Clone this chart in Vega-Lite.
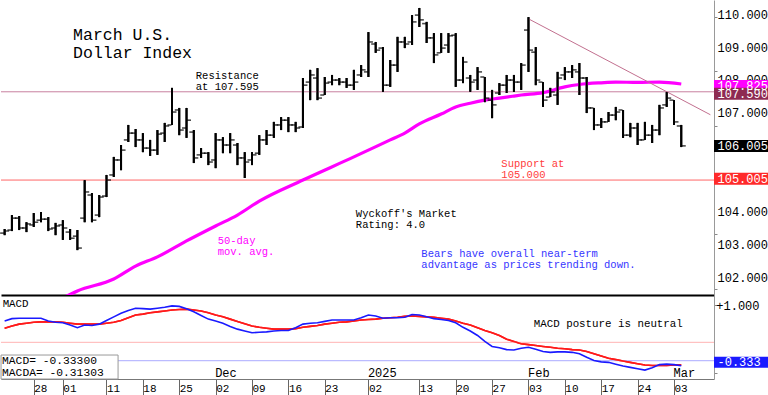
{
  "$schema": "https://vega.github.io/schema/vega-lite/v6.json",
  "padding": 0,
  "spacing": 0,
  "resolve": {"scale": {"color": "independent"}},
  "config": {
    "view": {"stroke": null},
    "font": "Liberation Mono",
    "axis": {"labelFont": "Liberation Mono", "grid": false},
    "text": {"font": "Liberation Mono"}
  },
  "datasets": {
    "bars": [
      {"d":"2024-10-22","o":103.44,"h":103.56,"l":103.38,"c":103.50,"m":0.65,"s":0.49},
      {"d":"2024-10-23","o":103.53,"h":103.97,"l":103.50,"c":103.88,"m":0.70,"s":0.54},
      {"d":"2024-10-24","o":103.88,"h":103.94,"l":103.53,"c":103.59,"m":0.71,"s":0.58},
      {"d":"2024-10-25","o":103.59,"h":103.76,"l":103.47,"c":103.71,"m":0.71,"s":0.60},
      {"d":"2024-10-28","o":103.68,"h":104.03,"l":103.62,"c":103.76,"m":0.71,"s":0.62},
      {"d":"2024-10-29","o":103.82,"h":104.06,"l":103.76,"c":103.85,"m":0.71,"s":0.63},
      {"d":"2024-10-30","o":103.85,"h":103.91,"l":103.50,"c":103.56,"m":0.65,"s":0.63},
      {"d":"2024-10-31","o":103.59,"h":103.74,"l":103.38,"c":103.65,"m":0.62,"s":0.63},
      {"d":"2024-11-01","o":103.68,"h":103.82,"l":103.24,"c":103.59,"m":0.61,"s":0.62},
      {"d":"2024-11-04","o":103.47,"h":103.56,"l":103.24,"c":103.29,"m":0.56,"s":0.60},
      {"d":"2024-11-05","o":103.35,"h":103.53,"l":102.94,"c":103.00,"m":0.50,"s":0.58},
      {"d":"2024-11-06","o":103.88,"h":105.00,"l":103.76,"c":104.65,"m":0.56,"s":0.58},
      {"d":"2024-11-07","o":104.56,"h":104.62,"l":103.76,"c":103.82,"m":0.55,"s":0.58},
      {"d":"2024-11-08","o":103.97,"h":104.56,"l":103.91,"c":104.50,"m":0.58,"s":0.58},
      {"d":"2024-11-11","o":104.53,"h":105.15,"l":104.50,"c":105.00,"m":0.66,"s":0.60},
      {"d":"2024-11-12","o":105.15,"h":105.68,"l":105.09,"c":105.59,"m":0.74,"s":0.62},
      {"d":"2024-11-13","o":105.59,"h":106.03,"l":105.29,"c":105.88,"m":0.82,"s":0.66},
      {"d":"2024-11-14","o":106.18,"h":106.62,"l":106.12,"c":106.38,"m":0.88,"s":0.72},
      {"d":"2024-11-15","o":106.38,"h":106.50,"l":105.97,"c":106.18,"m":0.93,"s":0.78},
      {"d":"2024-11-18","o":106.18,"h":106.38,"l":105.82,"c":105.94,"m":0.92,"s":0.80},
      {"d":"2024-11-19","o":105.94,"h":106.18,"l":105.71,"c":105.88,"m":0.91,"s":0.83},
      {"d":"2024-11-20","o":105.88,"h":106.47,"l":105.74,"c":106.35,"m":0.93,"s":0.85},
      {"d":"2024-11-21","o":106.38,"h":106.68,"l":106.12,"c":106.59,"m":0.95,"s":0.87},
      {"d":"2024-11-22","o":106.62,"h":107.71,"l":106.62,"c":107.00,"m":0.98,"s":0.89},
      {"d":"2024-11-25","o":107.06,"h":107.12,"l":106.32,"c":106.47,"m":0.97,"s":0.90},
      {"d":"2024-11-26","o":106.53,"h":107.12,"l":106.24,"c":106.76,"m":0.92,"s":0.91},
      {"d":"2024-11-27","o":106.41,"h":106.47,"l":105.50,"c":105.65,"m":0.85,"s":0.89},
      {"d":"2024-11-28","o":105.74,"h":105.94,"l":105.65,"c":105.79,"m":0.77,"s":0.87},
      {"d":"2024-11-29","o":105.79,"h":105.82,"l":105.44,"c":105.53,"m":0.69,"s":0.83},
      {"d":"2024-12-02","o":105.59,"h":106.38,"l":105.35,"c":106.18,"m":0.65,"s":0.78},
      {"d":"2024-12-03","o":106.18,"h":106.26,"l":105.79,"c":106.03,"m":0.60,"s":0.74},
      {"d":"2024-12-04","o":106.03,"h":106.38,"l":105.79,"c":106.18,"m":0.53,"s":0.69},
      {"d":"2024-12-05","o":106.03,"h":106.09,"l":105.44,"c":105.65,"m":0.47,"s":0.64},
      {"d":"2024-12-06","o":105.65,"h":105.82,"l":105.06,"c":105.53,"m":0.43,"s":0.59},
      {"d":"2024-12-09","o":105.59,"h":105.82,"l":105.44,"c":105.74,"m":0.39,"s":0.54},
      {"d":"2024-12-10","o":105.79,"h":106.32,"l":105.74,"c":106.18,"m":0.40,"s":0.51},
      {"d":"2024-12-11","o":106.18,"h":106.47,"l":106.03,"c":106.32,"m":0.41,"s":0.49},
      {"d":"2024-12-12","o":106.32,"h":106.71,"l":106.24,"c":106.62,"m":0.43,"s":0.47},
      {"d":"2024-12-13","o":106.62,"h":106.85,"l":106.47,"c":106.76,"m":0.44,"s":0.47},
      {"d":"2024-12-16","o":106.76,"h":106.85,"l":106.41,"c":106.62,"m":0.44,"s":0.47},
      {"d":"2024-12-17","o":106.62,"h":106.71,"l":106.41,"c":106.53,"m":0.50,"s":0.48},
      {"d":"2024-12-18","o":106.56,"h":108.00,"l":106.53,"c":107.79,"m":0.58,"s":0.51},
      {"d":"2024-12-19","o":107.88,"h":108.24,"l":107.35,"c":108.09,"m":0.60,"s":0.53},
      {"d":"2024-12-20","o":108.00,"h":108.29,"l":107.35,"c":107.41,"m":0.61,"s":0.55},
      {"d":"2024-12-23","o":107.50,"h":108.03,"l":107.50,"c":107.85,"m":0.64,"s":0.58},
      {"d":"2024-12-24","o":107.88,"h":108.09,"l":107.79,"c":107.94,"m":0.67,"s":0.60},
      {"d":"2024-12-26","o":107.94,"h":108.00,"l":107.79,"c":107.88,"m":0.67,"s":0.62},
      {"d":"2024-12-27","o":107.88,"h":108.00,"l":107.71,"c":107.79,"m":0.67,"s":0.63},
      {"d":"2024-12-30","o":107.79,"h":108.24,"l":107.65,"c":107.88,"m":0.67,"s":0.65},
      {"d":"2024-12-31","o":108.09,"h":108.38,"l":108.03,"c":108.24,"m":0.72,"s":0.67},
      {"d":"2025-01-02","o":108.18,"h":109.35,"l":108.03,"c":109.06,"m":0.78,"s":0.68},
      {"d":"2025-01-03","o":109.00,"h":109.06,"l":108.74,"c":108.82,"m":0.76,"s":0.69},
      {"d":"2025-01-06","o":108.88,"h":108.91,"l":107.59,"c":107.79,"m":0.71,"s":0.71},
      {"d":"2025-01-07","o":107.79,"h":108.53,"l":107.74,"c":108.38,"m":0.72,"s":0.72},
      {"d":"2025-01-08","o":108.38,"h":109.21,"l":108.18,"c":109.06,"m":0.72,"s":0.73},
      {"d":"2025-01-09","o":109.06,"h":109.21,"l":108.88,"c":109.00,"m":0.73,"s":0.75},
      {"d":"2025-01-10","o":109.06,"h":109.85,"l":108.97,"c":109.65,"m":0.79,"s":0.76},
      {"d":"2025-01-13","o":109.85,"h":110.06,"l":109.50,"c":109.71,"m":0.78,"s":0.75},
      {"d":"2025-01-14","o":109.60,"h":109.65,"l":109.03,"c":109.18,"m":0.74,"s":0.74},
      {"d":"2025-01-15","o":109.18,"h":109.32,"l":108.44,"c":108.68,"m":0.70,"s":0.73},
      {"d":"2025-01-16","o":108.74,"h":109.32,"l":108.74,"c":108.88,"m":0.68,"s":0.71},
      {"d":"2025-01-17","o":108.97,"h":109.32,"l":108.74,"c":109.24,"m":0.66,"s":0.69},
      {"d":"2025-01-20","o":109.26,"h":109.32,"l":107.74,"c":107.94,"m":0.61,"s":0.65},
      {"d":"2025-01-21","o":107.94,"h":108.62,"l":107.85,"c":108.47,"m":0.51,"s":0.60},
      {"d":"2025-01-22","o":108.00,"h":108.09,"l":107.59,"c":107.88,"m":0.43,"s":0.56},
      {"d":"2025-01-23","o":107.94,"h":108.32,"l":107.65,"c":108.18,"m":0.33,"s":0.50},
      {"d":"2025-01-24","o":108.03,"h":108.03,"l":107.29,"c":107.41,"m":0.20,"s":0.44},
      {"d":"2025-01-27","o":107.35,"h":107.65,"l":106.82,"c":107.21,"m":0.09,"s":0.39},
      {"d":"2025-01-28","o":107.56,"h":107.85,"l":107.50,"c":107.79,"m":0.06,"s":0.33},
      {"d":"2025-01-29","o":107.79,"h":108.09,"l":107.56,"c":107.94,"m":0.02,"s":0.25},
      {"d":"2025-01-30","o":107.94,"h":108.09,"l":107.59,"c":107.88,"m":0.01,"s":0.20},
      {"d":"2025-01-31","o":107.88,"h":108.44,"l":107.65,"c":108.38,"m":0.05,"s":0.15},
      {"d":"2025-02-03","o":109.41,"h":109.79,"l":108.18,"c":108.82,"m":0.07,"s":0.13},
      {"d":"2025-02-04","o":108.76,"h":108.91,"l":107.79,"c":107.94,"m":0.03,"s":0.11},
      {"d":"2025-02-05","o":107.88,"h":107.88,"l":107.15,"c":107.35,"m":-0.02,"s":0.09},
      {"d":"2025-02-06","o":107.44,"h":107.71,"l":107.44,"c":107.59,"m":-0.04,"s":0.07},
      {"d":"2025-02-07","o":107.50,"h":108.18,"l":107.21,"c":108.00,"m":-0.03,"s":0.05},
      {"d":"2025-02-10","o":108.09,"h":108.32,"l":107.94,"c":108.18,"m":-0.03,"s":0.04},
      {"d":"2025-02-11","o":108.18,"h":108.38,"l":108.00,"c":108.24,"m":-0.04,"s":0.02},
      {"d":"2025-02-12","o":108.18,"h":108.44,"l":107.50,"c":108.00,"m":-0.07,"s":0.01},
      {"d":"2025-02-13","o":108.00,"h":108.03,"l":106.97,"c":107.12,"m":-0.15,"s":-0.02},
      {"d":"2025-02-14","o":107.12,"h":107.12,"l":106.47,"c":106.62,"m":-0.22,"s":-0.07},
      {"d":"2025-02-17","o":106.62,"h":106.82,"l":106.53,"c":106.71,"m":-0.25,"s":-0.12},
      {"d":"2025-02-18","o":106.71,"h":107.00,"l":106.71,"c":106.91,"m":-0.26,"s":-0.17},
      {"d":"2025-02-19","o":106.91,"h":107.15,"l":106.76,"c":107.00,"m":-0.30,"s":-0.20},
      {"d":"2025-02-20","o":107.06,"h":107.06,"l":106.24,"c":106.32,"m":-0.34,"s":-0.23},
      {"d":"2025-02-21","o":106.32,"h":106.68,"l":106.26,"c":106.53,"m":-0.37,"s":-0.26},
      {"d":"2025-02-24","o":106.53,"h":106.68,"l":106.03,"c":106.18,"m":-0.40,"s":-0.29},
      {"d":"2025-02-25","o":106.18,"h":106.71,"l":106.18,"c":106.32,"m":-0.43,"s":-0.32},
      {"d":"2025-02-26","o":106.32,"h":106.62,"l":106.09,"c":106.47,"m":-0.38,"s":-0.33},
      {"d":"2025-02-27","o":106.47,"h":107.21,"l":106.32,"c":107.12,"m":-0.31,"s":-0.33},
      {"d":"2025-02-28","o":107.21,"h":107.59,"l":107.15,"c":107.41,"m":-0.30,"s":-0.33},
      {"d":"2025-03-03","o":107.35,"h":107.35,"l":106.62,"c":106.71,"m":-0.31,"s":-0.32},
      {"d":"2025-03-04","o":106.59,"h":106.62,"l":105.97,"c":106.005,"m":-0.333,"s":-0.313}
    ],
    "ma": [
      {"d":"2024-11-01","ma":101.53},{"d":"2024-11-05","ma":101.74},{"d":"2024-11-12","ma":102.09},
      {"d":"2024-11-15","ma":102.47},{"d":"2024-11-20","ma":102.74},{"d":"2024-11-26","ma":103.21},
      {"d":"2024-12-02","ma":103.65},{"d":"2024-12-05","ma":103.97},{"d":"2024-12-10","ma":104.38},
      {"d":"2024-12-18","ma":105.00},{"d":"2024-12-30","ma":105.68},{"d":"2025-01-07","ma":106.18},
      {"d":"2025-01-09","ma":106.38},{"d":"2025-01-13","ma":106.65},{"d":"2025-01-16","ma":106.94},
      {"d":"2025-01-20","ma":107.15},{"d":"2025-01-22","ma":107.26},{"d":"2025-01-24","ma":107.35},
      {"d":"2025-01-28","ma":107.41},{"d":"2025-01-30","ma":107.47},{"d":"2025-01-31","ma":107.50},
      {"d":"2025-02-05","ma":107.57},{"d":"2025-02-10","ma":107.74},{"d":"2025-02-12","ma":107.81},
      {"d":"2025-02-17","ma":107.86},{"d":"2025-02-19","ma":107.88},{"d":"2025-02-24","ma":107.87},
      {"d":"2025-02-27","ma":107.88},{"d":"2025-03-04","ma":107.825}
    ],
    "trend": [{"d":"2025-02-03","t":109.74},{"d":"2025-03-10","t":106.92}],
    "levels": [{"v":107.595,"k":"res"},{"v":105.0,"k":"sup"}],
    "mlevels": [{"v":0.18,"k":"hi"},{"v":-0.224,"k":"lo"}],
    "notes": [
      {"d":"2024-11-27","v":107.96,"t":"Resistance\nat 107.595","k":"n"},
      {"d":"2025-01-28","v":105.39,"t":"Support at\n105.000","k":"s"},
      {"d":"2024-12-30","v":103.91,"t":"Wyckoff's Market\nRating: 4.0","k":"n"},
      {"d":"2024-12-02","v":103.12,"t":"50-day\nmov. avg.","k":"m"},
      {"d":"2025-01-13","v":102.74,"t":"Bears have overall near-term\nadvantage as prices trending down.","k":"b"}
    ],
    "title": [{"d":"2024-11-04","v":109.12,"t":"March U.S.\nDollar Index"}],
    "ylabels": [
      {"v":102,"t":"102.000"},{"v":103,"t":"103.000"},{"v":104,"t":"104.000"},{"v":105,"t":"105.000"},
      {"v":106,"t":"106.000"},{"v":107,"t":"107.000"},{"v":108,"t":"108.000"},{"v":109,"t":"109.000"},{"v":110,"t":"110.000"}
    ],
    "tags": [
      {"v":107.825,"t":"107.825","k":"ma"},
      {"v":107.59,"t":"107.590","k":"res"},
      {"v":106.005,"t":"106.005","k":"last"},
      {"v":105.005,"t":"105.005","k":"sup"}
    ],
    "mnotes": [{"d":"2024-10-22","v":0.963,"t":"MACD"},{"d":"2025-02-04","v":0.51,"t":"MACD posture is neutral"}],
    "months": [{"d":"2024-12-02","t":"Dec"},{"d":"2025-01-02","t":"2025"},{"d":"2025-02-03","t":"Feb"},{"d":"2025-03-03","t":"Mar"}],
    "mbox": [{"d1":"2024-10-22","d2":"2024-11-12","v1":-0.099,"v2":-0.626}],
    "mboxtext": [{"d":"2024-10-22","v":-0.297,"t":"MACD=   -0.33300\nMACDA=  -0.31303"}],
    "mtag": [{"v":-0.333,"t":"-0.333"}]
  },
  "vconcat": [
    {
      "spacing": 0,
      "bounds": "flush",
      "resolve": {"scale": {"color": "independent"}},
      "hconcat": [
        {
          "width": 713,
          "height": 295,
          "layer": [
            {
              "data": {"name": "bars"},
              "mark": {"type": "rule", "color": "#000000", "strokeWidth": 2},
              "encoding": {
                "x": {"field": "d", "type": "ordinal",
                  "scale": {"type": "point", "padding": 0.5, "domain": ["2024-10-22","2024-10-23","2024-10-24","2024-10-25","2024-10-28","2024-10-29","2024-10-30","2024-10-31","2024-11-01","2024-11-04","2024-11-05","2024-11-06","2024-11-07","2024-11-08","2024-11-11","2024-11-12","2024-11-13","2024-11-14","2024-11-15","2024-11-18","2024-11-19","2024-11-20","2024-11-21","2024-11-22","2024-11-25","2024-11-26","2024-11-27","2024-11-28","2024-11-29","2024-12-02","2024-12-03","2024-12-04","2024-12-05","2024-12-06","2024-12-09","2024-12-10","2024-12-11","2024-12-12","2024-12-13","2024-12-16","2024-12-17","2024-12-18","2024-12-19","2024-12-20","2024-12-23","2024-12-24","2024-12-26","2024-12-27","2024-12-30","2024-12-31","2025-01-02","2025-01-03","2025-01-06","2025-01-07","2025-01-08","2025-01-09","2025-01-10","2025-01-13","2025-01-14","2025-01-15","2025-01-16","2025-01-17","2025-01-20","2025-01-21","2025-01-22","2025-01-23","2025-01-24","2025-01-27","2025-01-28","2025-01-29","2025-01-30","2025-01-31","2025-02-03","2025-02-04","2025-02-05","2025-02-06","2025-02-07","2025-02-10","2025-02-11","2025-02-12","2025-02-13","2025-02-14","2025-02-17","2025-02-18","2025-02-19","2025-02-20","2025-02-21","2025-02-24","2025-02-25","2025-02-26","2025-02-27","2025-02-28","2025-03-03","2025-03-04","2025-03-05","2025-03-06","2025-03-07","2025-03-10"]},
                  "axis": {"orient": "bottom", "labels": false, "ticks": false, "title": null, "domainColor": "#000000", "domainWidth": 2}},
                "y": {"field": "l", "type": "quantitative",
                  "scale": {"domain": [101.62, 110.294], "nice": false, "zero": false},
                  "axis": {"orient": "right", "title": null, "tickSize": 3, "tickColor": "#888888", "domainColor": "#999999",
                    "labels": false,
                    "values": [101.8,102,102.2,102.4,102.6,102.8,103,103.2,103.4,103.6,103.8,104,104.2,104.4,104.6,104.8,105,105.2,105.4,105.6,105.8,106,106.2,106.4,106.6,106.8,107,107.2,107.4,107.6,107.8,108,108.2,108.4,108.6,108.8,109,109.2,109.4,109.6,109.8,110,110.2]}},
                "y2": {"field": "h"}
              }
            },
            {
              "data": {"name": "levels"},
              "mark": {"type": "rule", "strokeWidth": 1},
              "encoding": {
                "y": {"field": "v", "type": "quantitative"},
                "color": {"field": "k", "type": "nominal", "legend": null,
                  "scale": {"domain": ["res","sup","n","s","m","b"], "range": ["#c8809f","#ff6666","#000000","#ff3b3b","#ff00ff","#3535ff"]}}
              }
            },
            {
              "data": {"name": "ma"},
              "mark": {"type": "line", "color": "#ff00ff", "strokeWidth": 3.2, "clip": true, "interpolate": "monotone"},
              "encoding": {
                "x": {"field": "d", "type": "ordinal"},
                "y": {"field": "ma", "type": "quantitative"}
              }
            },
            {
              "data": {"name": "trend"},
              "mark": {"type": "line", "color": "#c2708f", "strokeWidth": 1},
              "encoding": {
                "x": {"field": "d", "type": "ordinal"},
                "y": {"field": "t", "type": "quantitative"}
              }
            },
            {
              "data": {"name": "bars"},
              "mark": {"type": "rule", "color": "#000000", "strokeWidth": 2},
              "encoding": {
                "x": {"field": "d", "type": "ordinal"},
                "y": {"field": "l", "type": "quantitative"},
                "y2": {"field": "h"}
              }
            },
            {
              "data": {"name": "bars"},
              "mark": {"type": "tick", "color": "#000000", "size": 4, "thickness": 1.6, "xOffset": -2.5},
              "encoding": {
                "x": {"field": "d", "type": "ordinal"},
                "y": {"field": "o", "type": "quantitative"}
              }
            },
            {
              "data": {"name": "bars"},
              "mark": {"type": "tick", "color": "#000000", "size": 4, "thickness": 1.6, "xOffset": 2.5},
              "encoding": {
                "x": {"field": "d", "type": "ordinal"},
                "y": {"field": "c", "type": "quantitative"}
              }
            },
            {
              "data": {"name": "notes"},
              "mark": {"type": "text", "align": "left", "baseline": "alphabetic", "fontSize": 10.5, "lineHeight": 11, "lineBreak": "\n", "dx": 2},
              "encoding": {
                "x": {"field": "d", "type": "ordinal"},
                "y": {"field": "v", "type": "quantitative"},
                "text": {"field": "t"},
                "color": {"field": "k", "type": "nominal", "legend": null,
                  "scale": {"domain": ["res","sup","n","s","m","b"], "range": ["#c8809f","#ff6666","#000000","#ff3b3b","#ff00ff","#3535ff"]}}
              }
            },
            {
              "data": {"name": "title"},
              "mark": {"type": "text", "align": "left", "baseline": "alphabetic", "fontSize": 16.5, "lineHeight": 18, "lineBreak": "\n", "dx": 3, "color": "#000000"},
              "encoding": {
                "x": {"field": "d", "type": "ordinal"},
                "y": {"field": "v", "type": "quantitative"},
                "text": {"field": "t"}
              }
            }
          ]
        },
        {
          "width": 55,
          "height": 295,
          "layer": [
            {
              "data": {"name": "ylabels"},
              "mark": {"type": "text", "align": "right", "baseline": "middle", "dx": -1, "fontSize": 12, "color": "#000000"},
              "encoding": {
                "y": {"field": "v", "type": "quantitative", "scale": {"domain": [101.62, 110.294], "nice": false, "zero": false}, "axis": null},
                "x": {"datum": 1, "type": "quantitative", "scale": {"domain": [0, 1], "nice": false}, "axis": null},
                "text": {"field": "t"}
              }
            },
            {
              "data": {"name": "tags"},
              "mark": {"type": "bar", "orient": "horizontal", "height": 12},
              "encoding": {
                "y": {"field": "v", "type": "quantitative"},
                "x": {"datum": 1, "type": "quantitative"},
                "color": {"field": "k", "type": "nominal", "legend": null,
                  "scale": {"domain": ["ma","res","last","sup"], "range": ["#ff00ff","#8e2a52","#000000","#ff2a2a"]}}
              }
            },
            {
              "data": {"name": "tags"},
              "mark": {"type": "text", "align": "left", "baseline": "middle", "dx": 3.5, "fontSize": 12, "color": "#ffffff"},
              "encoding": {
                "y": {"field": "v", "type": "quantitative"},
                "x": {"datum": 0, "type": "quantitative"},
                "text": {"field": "t"}
              }
            }
          ]
        }
      ]
    },
    {
      "spacing": 0,
      "bounds": "flush",
      "resolve": {"scale": {"color": "independent"}},
      "hconcat": [
        {
          "width": 713,
          "height": 84,
          "layer": [
            {
              "data": {"name": "bars"},
              "mark": {"type": "line", "color": "#ff1a1a", "strokeWidth": 1.6},
              "encoding": {
                "x": {"field": "d", "type": "ordinal",
                  "scale": {"type": "point", "padding": 0.5, "domain": ["2024-10-22","2024-10-23","2024-10-24","2024-10-25","2024-10-28","2024-10-29","2024-10-30","2024-10-31","2024-11-01","2024-11-04","2024-11-05","2024-11-06","2024-11-07","2024-11-08","2024-11-11","2024-11-12","2024-11-13","2024-11-14","2024-11-15","2024-11-18","2024-11-19","2024-11-20","2024-11-21","2024-11-22","2024-11-25","2024-11-26","2024-11-27","2024-11-28","2024-11-29","2024-12-02","2024-12-03","2024-12-04","2024-12-05","2024-12-06","2024-12-09","2024-12-10","2024-12-11","2024-12-12","2024-12-13","2024-12-16","2024-12-17","2024-12-18","2024-12-19","2024-12-20","2024-12-23","2024-12-24","2024-12-26","2024-12-27","2024-12-30","2024-12-31","2025-01-02","2025-01-03","2025-01-06","2025-01-07","2025-01-08","2025-01-09","2025-01-10","2025-01-13","2025-01-14","2025-01-15","2025-01-16","2025-01-17","2025-01-20","2025-01-21","2025-01-22","2025-01-23","2025-01-24","2025-01-27","2025-01-28","2025-01-29","2025-01-30","2025-01-31","2025-02-03","2025-02-04","2025-02-05","2025-02-06","2025-02-07","2025-02-10","2025-02-11","2025-02-12","2025-02-13","2025-02-14","2025-02-17","2025-02-18","2025-02-19","2025-02-20","2025-02-21","2025-02-24","2025-02-25","2025-02-26","2025-02-27","2025-02-28","2025-03-03","2025-03-04","2025-03-05","2025-03-06","2025-03-07","2025-03-10"]},
                  "axis": {"orient": "bottom", "title": null, "domainColor": "#777777", "tickColor": "#666666", "tickSize": 16,
                    "labelAlign": "left", "labelBaseline": "top", "labelPadding": -13, "labelDx": 2, "labelFontSize": 11, "labelColor": "#000000",
                    "labelOverlap": false, "labelBound": false, "labelFlush": false, "labelAngle": 0,
                    "values": ["2024-10-28","2024-11-01","2024-11-11","2024-11-18","2024-11-25","2024-12-02","2024-12-09","2024-12-16","2024-12-23","2025-01-02","2025-01-13","2025-01-20","2025-01-27","2025-02-03","2025-02-10","2025-02-17","2025-02-24","2025-03-03"],
                    "labelExpr": "substring(datum.value, 8, 10)"}},
                "y": {"field": "s", "type": "quantitative",
                  "scale": {"domain": [-0.626, 1.22], "nice": false, "zero": false},
                  "axis": {"orient": "right", "title": null, "tickSize": 3, "tickColor": "#888888", "domainColor": "#999999",
                    "labelAlign": "right", "labelPadding": 42, "labelFontSize": 12, "labelColor": "#000000", "labelBaseline": "middle",
                    "labelOverlap": false, "labelBound": false, "labelFlush": false,
                    "values": [-0.5, 0, 0.5, 1],
                    "labelExpr": "datum.value == 1 ? '+1.000' : (datum.value == 0 ? '0.000' : '')"}}
              }
            },
            {
              "data": {"name": "mlevels"},
              "mark": {"type": "rule", "strokeWidth": 1},
              "encoding": {
                "y": {"field": "v", "type": "quantitative"},
                "color": {"field": "k", "type": "nominal", "legend": null, "scale": {"domain": ["hi","lo"], "range": ["#ffb3b3","#aaaaff"]}}
              }
            },
            {
              "data": {"name": "bars"},
              "mark": {"type": "line", "color": "#ff1a1a", "strokeWidth": 1.6},
              "encoding": {
                "x": {"field": "d", "type": "ordinal"},
                "y": {"field": "s", "type": "quantitative"}
              }
            },
            {
              "data": {"name": "bars"},
              "mark": {"type": "line", "color": "#1a1aff", "strokeWidth": 1.6},
              "encoding": {
                "x": {"field": "d", "type": "ordinal"},
                "y": {"field": "m", "type": "quantitative"}
              }
            },
            {
              "data": {"name": "mbox"},
              "mark": {"type": "rect", "fill": "#ffffff", "stroke": "#999999", "strokeWidth": 1, "xOffset": -3.6, "x2Offset": 4.3},
              "encoding": {
                "x": {"field": "d1", "type": "ordinal"},
                "x2": {"field": "d2"},
                "y": {"field": "v1", "type": "quantitative"},
                "y2": {"field": "v2"}
              }
            },
            {
              "data": {"name": "mboxtext"},
              "mark": {"type": "text", "align": "left", "baseline": "alphabetic", "fontSize": 11.3, "lineHeight": 12, "lineBreak": "\n", "dx": -2.6, "color": "#000000"},
              "encoding": {
                "x": {"field": "d", "type": "ordinal"},
                "y": {"field": "v", "type": "quantitative"},
                "text": {"field": "t"}
              }
            },
            {
              "data": {"name": "mnotes"},
              "mark": {"type": "text", "align": "left", "baseline": "alphabetic", "fontSize": 10.8, "dx": -2, "color": "#000000"},
              "encoding": {
                "x": {"field": "d", "type": "ordinal"},
                "y": {"field": "v", "type": "quantitative"},
                "text": {"field": "t"}
              }
            },
            {
              "data": {"name": "months"},
              "mark": {"type": "text", "align": "left", "baseline": "alphabetic", "fontSize": 12, "dx": -0.5, "color": "#000000"},
              "encoding": {
                "x": {"field": "d", "type": "ordinal"},
                "y": {"datum": -0.589, "type": "quantitative"},
                "text": {"field": "t"}
              }
            }
          ]
        },
        {
          "width": 55,
          "height": 84,
          "data": {"name": "mtag"},
          "layer": [
            {
              "mark": {"type": "bar", "orient": "horizontal", "height": 11, "color": "#1a1aff"},
              "encoding": {
                "y": {"field": "v", "type": "quantitative", "scale": {"domain": [-0.626, 1.22], "nice": false, "zero": false}, "axis": null},
                "x": {"datum": 1, "type": "quantitative", "scale": {"domain": [0, 1], "nice": false}, "axis": null}
              }
            },
            {
              "mark": {"type": "text", "align": "left", "baseline": "middle", "dx": 3.5, "fontSize": 12, "color": "#ffffff"},
              "encoding": {
                "y": {"field": "v", "type": "quantitative"},
                "x": {"datum": 0, "type": "quantitative"},
                "text": {"field": "t"}
              }
            }
          ]
        }
      ]
    }
  ]
}
